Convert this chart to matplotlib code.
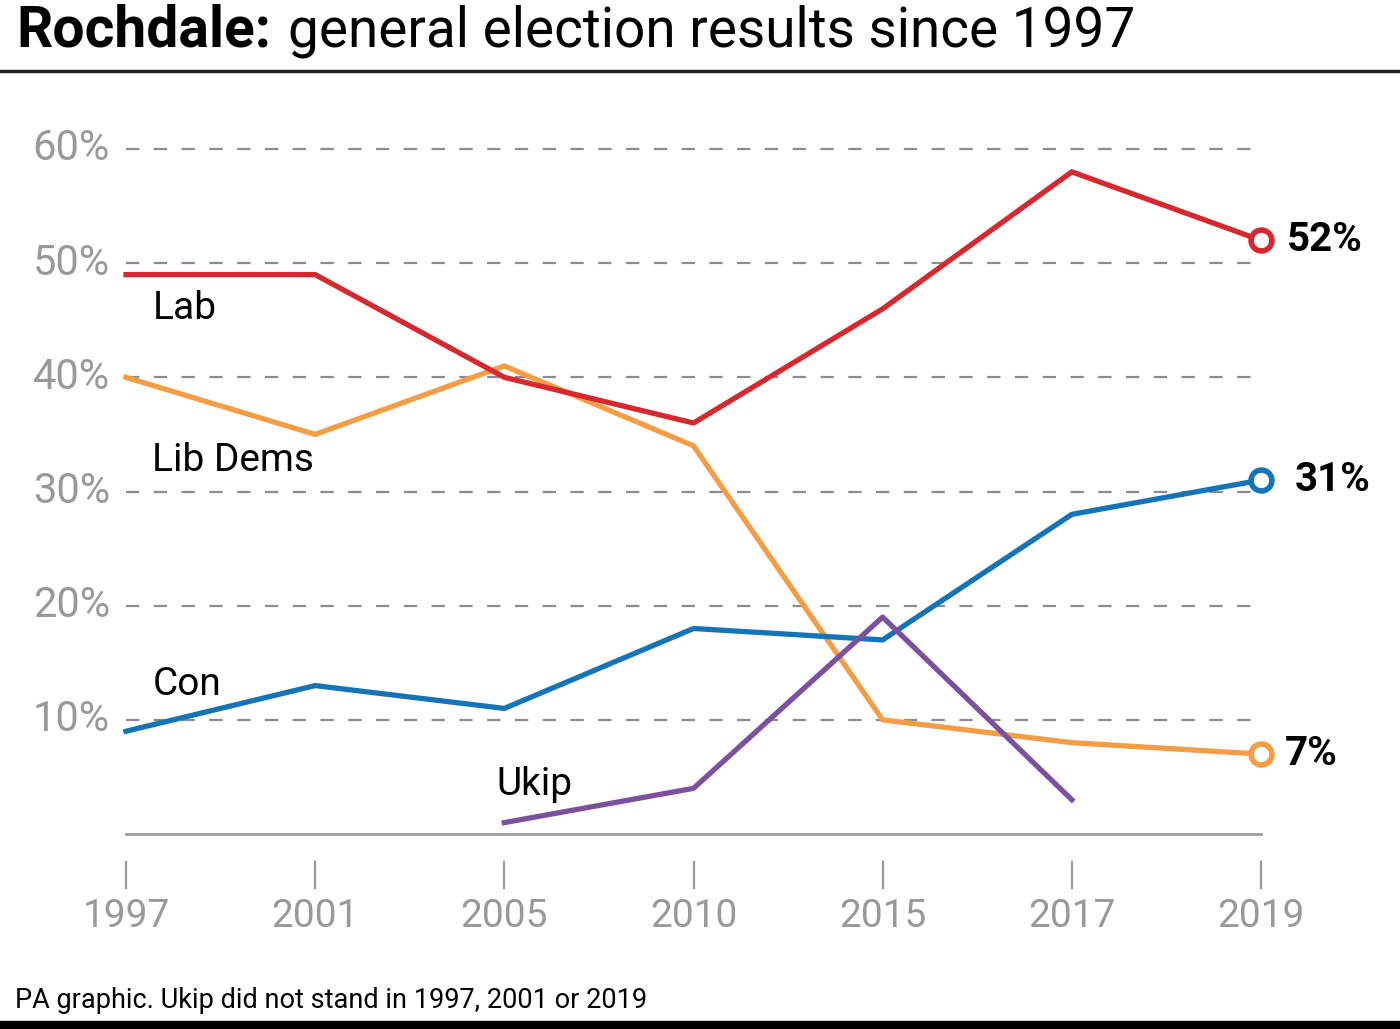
import matplotlib
matplotlib.use("Agg")
import matplotlib.pyplot as plt
from matplotlib.lines import Line2D
from matplotlib.patches import Rectangle

years = ["1997", "2001", "2005", "2010", "2015", "2017", "2019"]
lab = [49, 49, 40, 36, 46, 58, 52]
libdem = [40, 35, 41, 34, 10, 8, 7]
con = [9, 13, 11, 18, 17, 28, 31]
ukip_idx = [2, 3, 4, 5]
ukip = [1, 4, 19, 3]
yticks = [10, 20, 30, 40, 50, 60]

RED = "#d7282f"
ORANGE = "#f49d45"
BLUE = "#1574b8"
PURPLE = "#7d4f9f"
GREY = "#999999"

FONT = ['Roboto', 'DejaVu Sans']
plt.rcParams['font.family'] = FONT

W, H = 1400, 1029
fig = plt.figure(figsize=(W / 100, H / 100), dpi=100)

def fx(px):
    return px / W

def fy(py):
    return (H - py) / H

ax = fig.add_axes([fx(126), fy(834), fx(1261) - fx(126), fy(149) - fy(834)])
ax.set_xlim(0, 6)
ax.set_ylim(0, 60)
for s in ax.spines.values():
    s.set_visible(False)
ax.set_xticks([])
ax.set_yticks([])

x = list(range(len(years)))

# grid lines
for v in yticks:
    ax.plot([0, 5.98], [v, v], color="#8c8c8c", lw=1.6, ls=(0, (6, 6.5)), zorder=1, clip_on=False)
    ax.text(-0.085, v, f"{v}%", ha="right", va="center", fontsize=30, color=GREY)
ax.plot([0, 6], [0, 0], color="#9a9a9a", lw=2, zorder=1, clip_on=False)

# x ticks and labels
for i, yr in enumerate(years):
    ax.plot([i, i], [-2.45, -4.7], color=GREY, lw=1.6, clip_on=False)
    ax.text(i, -7.25, yr, ha="center", va="center", fontsize=28, color=GREY)

lw = 3.8
ax.plot(x, libdem, color=ORANGE, lw=lw, zorder=3, clip_on=False)
ax.plot(x, lab, color=RED, lw=lw, zorder=4, clip_on=False)
ax.plot(x, con, color=BLUE, lw=lw, zorder=3, clip_on=False)
ax.plot(ukip_idx, ukip, color=PURPLE, lw=lw, zorder=5, clip_on=False)

for series, col in [(lab, RED), (con, BLUE), (libdem, ORANGE)]:
    ax.plot([6], [series[-1]], marker="o", ms=15, mfc="white", mec=col, mew=4,
            zorder=6, clip_on=False)

ax.text(6.135, lab[-1], f"{lab[-1]}%", ha="left", va="center", fontsize=29, fontweight="bold")
ax.text(6.18, con[-1], f"{con[-1]}%", ha="left", va="center", fontsize=29, fontweight="bold")
ax.text(6.125, libdem[-1], f"{libdem[-1]}%", ha="left", va="center", fontsize=29, fontweight="bold")

lab_kw = dict(ha="left", va="center", fontsize=28, color="black")
ax.text(0.14, 46.0, "Lab", **lab_kw)
ax.text(0.14, 32.7, "Lib Dems", **lab_kw)
ax.text(0.14, 13.1, "Con", **lab_kw)
ax.text(1.96, 4.3, "Ukip", **lab_kw)

# title
fig.text(fx(16), fy(31), "Rochdale:", ha="left", va="center", fontsize=41, fontweight="bold")
fig.text(fx(288), fy(31), "general election results since 1997", ha="left", va="center",
         fontsize=39.5)
fig.add_artist(Line2D([0, 1], [fy(71), fy(71)], color="#222222", lw=2.5, transform=fig.transFigure))

fig.text(fx(15), fy(1001), "PA graphic. Ukip did not stand in 1997, 2001 or 2019", ha="left",
         va="center", fontsize=19.5)
fig.add_artist(Rectangle((0, 0), 1, fy(1021), color="black", transform=fig.transFigure))

fig.savefig("out.png", dpi=100)
